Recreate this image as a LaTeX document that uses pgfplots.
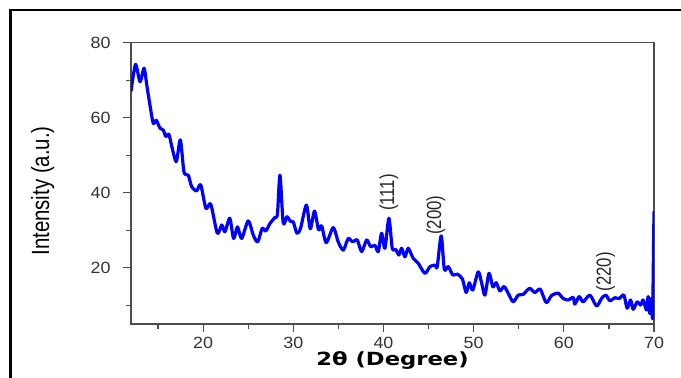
\documentclass[border=0pt]{standalone}
\usepackage{fontspec}
\setmainfont{Liberation Sans}
\newfontfamily\tickfont[FakeStretch=1.1]{Liberation Sans}
\newfontfamily\narrowfont[FakeStretch=0.82]{Liberation Sans}
\newfontfamily\xlabfont[FakeStretch=1.25]{DejaVu Sans}
\usepackage{pgfplots}
\pgfplotsset{compat=1.18}
\begin{document}
\begin{tikzpicture}
\begin{axis}[
  at={(131bp,54bp)}, anchor=south west,
  scale only axis, width=523bp, height=281.3bp,
  xmin=12, xmax=70, ymin=5, ymax=80,
  xtick={20,30,...,70}, ytick={20,40,60,80},
  minor xtick={15,25,...,65}, minor ytick={10,30,50,70},
  tick pos=left, tick align=outside,
  major tick length=8bp, minor tick length=5bp,
  axis line style={black!70, line width=1.2bp},
  tick style={black!70, line width=1.2bp},
  /pgf/number format/assume math mode=true,
  ticklabel style={font=\tickfont\fontsize{16.3}{18}\selectfont, text=black!80},
  xticklabel style={yshift=-2bp},
  yticklabel style={xshift=-9bp},
  xlabel={\xlabfont\bfseries\fontsize{18.2}{20}\selectfont 2θ (Degree)},
  xlabel style={at={(axis description cs:0.5,-0.146)}, anchor=base},
  ylabel={\narrowfont\fontsize{25}{28}\selectfont Intensity (a.u.)},
  ylabel style={at={(axis description cs:-0.169,0.473)}, anchor=center},
]
\addplot[color={rgb,255:red,0;green,0;blue,255}, line width=3.2bp, smooth, tension=0.45, line join=round] table {
x y
12.0 67.0
12.5 74.2
13.0 69.6
13.45 73.2
13.75 68.7
14.1 63.4
14.47 58.5
14.8 59.3
15.22 57.2
15.58 56.7
15.86 55.0
16.2 55.6
16.51 52.5
17.02 48.3
17.47 54.1
17.88 45.5
18.35 44.7
18.73 41.6
19.28 40.5
19.73 42.1
20.31 35.8
20.84 37.0
21.57 29.2
22.06 31.4
22.42 29.6
22.95 33.2
23.38 27.8
23.81 30.9
24.27 27.8
25.0 32.5
25.56 28.7
26.05 26.9
26.55 30.5
26.95 29.8
27.41 31.8
27.96 33.4
28.24 34.3
28.52 44.7
28.88 32.0
29.3 33.6
29.7 32.3
30.0 32.2
30.4 29.2
30.8 30.5
31.45 36.7
31.88 30.4
32.35 35.1
32.8 30.1
33.14 31.2
33.65 26.7
34.43 30.7
34.98 26.9
35.54 24.7
36.09 27.8
36.58 26.9
37.09 27.4
37.58 24.3
38.13 27.4
38.58 25.6
39.05 26.0
39.42 24.3
39.79 29.2
40.16 25.2
40.6 33.2
40.97 25.2
41.35 24.9
41.71 23.4
42.01 25.2
42.38 22.9
42.74 25.2
43.3 22.5
43.85 21.2
44.59 18.5
45.15 20.3
45.7 20.7
45.96 20.3
46.4 28.5
46.75 19.6
47.18 20.3
47.7 18.05
48.2 18.3
48.75 17.0
49.17 13.4
49.52 16.0
49.9 14.05
50.5 18.9
50.88 16.0
51.25 12.7
51.7 18.5
52.13 14.9
52.5 16.0
52.91 13.8
53.37 15.0
53.83 13.2
54.38 10.9
54.94 12.7
55.49 12.9
56.2 14.5
56.79 13.4
57.38 14.3
58.05 10.7
58.64 12.6
59.37 13.2
59.93 11.8
60.48 11.4
61.04 12.1
61.22 10.3
61.7 12.3
62.14 10.9
62.89 12.7
63.63 9.8
64.18 11.8
64.66 12.7
65.1 11.2
65.66 12.0
66.14 11.8
66.66 12.7
67.02 9.2
67.4 11.4
67.69 8.9
68.13 10.9
68.51 10.05
68.8 11.4
69.17 8.7
69.35 12.3
69.54 7.8
69.69 11.8
69.84 6.5
69.92 20.0
70.0 35.0
};
\node[rotate=90, font=\narrowfont\fontsize{20.5}{22}\selectfont, text=black!85] at (axis cs:40.58,40.05) {(111)};
\node[rotate=90, font=\narrowfont\fontsize{20.5}{22}\selectfont, text=black!85] at (axis cs:45.8,34.0) {(200)};
\node[rotate=90, font=\narrowfont\fontsize{20.5}{22}\selectfont, text=black!85] at (axis cs:64.64,18.9) {(220)};
\end{axis}
\draw[line width=2.5bp] (10.5bp,0bp) -- (10.5bp,368bp) -- (681bp,368bp);
\pgfresetboundingbox
\path[use as bounding box] (0bp,0bp) rectangle (681bp,378bp);
\end{tikzpicture}
\end{document}
